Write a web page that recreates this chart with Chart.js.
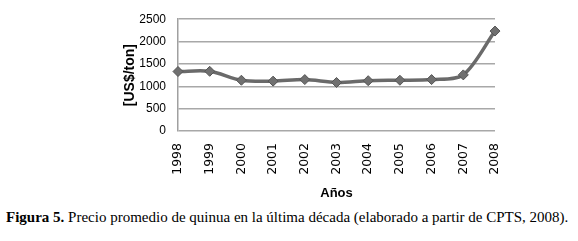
<!DOCTYPE html>
<html>
<head>
<meta charset="utf-8">
<script src="https://cdn.jsdelivr.net/npm/chart.js@4"></script>
<style>
  body { margin: 0; background: #fff; }
  #wrap { position: relative; width: 578px; height: 241px; }
  #box { position: absolute; left: 0; top: 0; width: 578px; height: 205px; }
  #caption {
    position: absolute; left: 6px; top: 209px; white-space: nowrap;
    font-family: "Liberation Serif", "Times New Roman", serif; font-size: 15px; color: #000;
  }
</style>
</head>
<body>
<div id="wrap">
  <div id="box"><canvas id="chart"></canvas></div>
  <div id="caption"><b>Figura 5.</b> Precio promedio de quinua en la última década (elaborado a partir de CPTS, 2008).</div>
</div>
<script>
const years = ['1998', '1999', '2000', '2001', '2002', '2003', '2004', '2005', '2006', '2007', '2008'];
const prices = [1330, 1335, 1135, 1115, 1150, 1085, 1125, 1135, 1150, 1255, 2235];
const yTicks = [0, 500, 1000, 1500, 2000, 2500];

new Chart(document.getElementById('chart'), {
  type: 'line',
  data: {
    labels: years,
    datasets: [{
      data: prices,
      borderColor: '#6a6a6a',
      borderWidth: 3.5,
      tension: 0.3,
      pointStyle: 'rectRot',
      pointRadius: 5,
      pointBackgroundColor: '#707070',
      pointBorderColor: '#555555',
      pointBorderWidth: 1
    }]
  },
  options: {
    responsive: true,
    maintainAspectRatio: false,
    animation: false,
    layout: { padding: { left: 118, right: 83, top: 15, bottom: 0 } },
    plugins: { legend: { display: false }, tooltip: { enabled: false } },
    scales: {
      x: {
        offset: false,
        grid: { display: false, drawTicks: false },
        border: { display: false },
        ticks: {
          autoSkip: false, minRotation: 90, maxRotation: 90, padding: 12,
          color: '#000', font: { family: 'DejaVu Sans', size: 12.5 }
        },
        title: {
          display: true, text: 'Años', color: '#000',
          font: { family: 'Liberation Sans', size: 13, weight: 'bold' },
          padding: { top: 2, bottom: 4 }
        },
        afterFit: s => { s.height = 74; }
      },
      y: {
        min: 0, max: 2500,
        afterBuildTicks: s => { s.ticks = yTicks.map(v => ({ value: v })); },
        grid: { color: '#a8a8a8', lineWidth: 1.5, drawTicks: false },
        border: { display: true, color: '#a0a0a0', width: 1.5 },
        ticks: {
          padding: 12, color: '#000', font: { family: 'Liberation Sans', size: 12 },
          callback: v => String(v)
        },
        title: {
          display: true, text: '[US$/ton]', color: '#000',
          font: { family: 'Liberation Sans', size: 14, weight: 'bold' },
          padding: { top: 4, bottom: 0 }
        },
        afterFit: s => { s.width = 60; }
      }
    }
  }
});
</script>
</body>
</html>
